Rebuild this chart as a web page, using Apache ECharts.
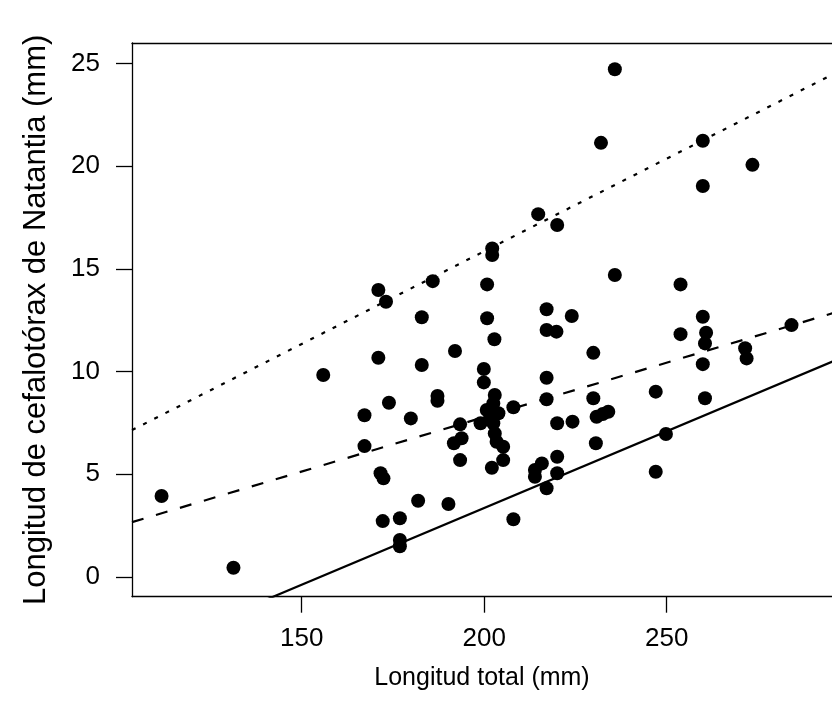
<!DOCTYPE html>
<html>
<head>
<meta charset="utf-8">
<script src="https://cdn.jsdelivr.net/npm/echarts@6/dist/echarts.min.js"></script>
<style>html,body{margin:0;padding:0;background:#fff;}#c{width:832px;height:720px;}</style>
</head>
<body>
<div id="c"></div>
<script>
// Scatter data: total length (mm) vs cephalothorax length (mm)
var totalLength = [111.6,131.3,155.9,171.0,173.9,167.2,167.2,171.6,172.4,172.2,176.9,176.9,176.9,
  182.9,200.8,202.8,217.1,219.8,182.9,192.0,199.9,199.9,217.1,187.2,187.2,179.9,208.0,217.1,220.0,
  193.4,193.8,191.7,193.4,202.9,202.5,200.7,203.9,201.6,199.0,202.5,202.9,203.4,205.2,205.2,202.1,
  181.9,190.2,208.0,215.8,213.9,213.9,217.1,220.0,220.0,224.0,229.9,259.9,260.8,260.5,253.8,271.5,
  271.9,259.9,229.9,247.0,260.5,224.2,230.8,232.5,234.0,230.6,249.8,247.0,214.8,220.0,202.2,202.2,
  185.9,200.8,171.0,173.1,217.1,235.8,232.0,259.9,273.5,259.9,235.8,253.8,284.2];
var cephLength = [3.94,0.45,9.83,10.67,8.48,7.87,6.37,5.05,4.80,2.72,2.86,1.80,1.50,
  12.64,12.59,11.57,12.02,11.94,10.32,11.00,10.12,9.47,9.70,8.81,8.58,7.72,8.26,8.65,7.48,
  7.43,6.75,6.51,5.69,8.86,8.45,8.13,7.97,7.72,7.48,7.48,6.99,6.58,6.34,5.69,5.32,
  3.71,3.55,2.81,5.53,5.21,4.88,4.32,5.85,5.05,12.70,10.91,12.67,11.89,11.37,11.82,11.13,
  10.64,10.36,8.70,9.02,8.70,7.56,7.80,7.93,8.04,6.51,6.96,5.12,17.66,17.13,15.99,15.67,
  14.40,14.24,13.97,13.40,13.03,24.71,21.13,21.23,20.06,19.03,14.70,14.24,12.26];

// Fitted lines (endpoints)
var lineX = [103.5, 300];
var lowerLine = [-3.85, 10.83];   // solid
var middleLine = [2.67, 13.08];   // dashed
var upperLine = [7.15, 24.87];    // dotted

var xTicks = [150, 200, 250];
var yTicks = [0, 5, 10, 15, 20, 25];

var pts = totalLength.map(function (x, i) { return [x, cephLength[i]]; });
function pairs(ys) { return lineX.map(function (x, i) { return [x, ys[i]]; }); }

var font = 'Liberation Sans, Arial, sans-serif';
var axisLineStyle = {color: '#000', width: 1.3};
var chart = echarts.init(document.getElementById('c'), null, {renderer: 'canvas'});
chart.setOption({
  animation: false,
  backgroundColor: '#fff',
  grid: {left: 132, top: 43, right: 0, bottom: 123.3, show: false},
  xAxis: [{
    type: 'value', min: 103.5, max: 295.3, position: 'bottom',
    name: 'Longitud total (mm)', nameLocation: 'middle', nameGap: 69,
    nameTextStyle: {color: '#000', fontSize: 25, fontFamily: font},
    axisLine: {show: true, onZero: false, lineStyle: axisLineStyle},
    axisTick: {show: true, inside: false, length: 16, customValues: xTicks, lineStyle: {color: '#000', width: 1.3}},
    axisLabel: {customValues: xTicks, color: '#000', fontSize: 26, fontFamily: font, margin: 29},
    splitLine: {show: false}
  }, {
    type: 'value', min: 103.5, max: 295.3, position: 'top',
    axisLine: {show: true, onZero: false, lineStyle: axisLineStyle},
    axisTick: {show: false}, axisLabel: {show: false}, splitLine: {show: false}
  }],
  yAxis: {
    type: 'value', min: -0.959, max: 25.99, position: 'left',
    name: 'Longitud de cefalotórax de Natantia (mm)', nameLocation: 'middle', nameGap: 80, nameRotate: 90,
    nameTextStyle: {color: '#000', fontSize: 31, fontFamily: font},
    axisLine: {show: true, onZero: false, lineStyle: axisLineStyle},
    axisTick: {show: true, inside: false, length: 16, customValues: yTicks, lineStyle: {color: '#000', width: 1.3}},
    axisLabel: {customValues: yTicks, color: '#000', fontSize: 26, fontFamily: font, margin: 32},
    splitLine: {show: false}
  },
  series: [
    {type: 'scatter', xAxisIndex: 0, data: pts, symbol: 'circle', symbolSize: 14, itemStyle: {color: '#000', opacity: 1}, clip: true},
    {type: 'line', xAxisIndex: 0, data: pairs(lowerLine), symbol: 'none', clip: true, lineStyle: {color: '#000', width: 2.2, type: 'solid'}},
    {type: 'line', xAxisIndex: 0, data: pairs(middleLine), symbol: 'none', clip: true, lineStyle: {color: '#000', width: 2.2, type: [12, 13]}},
    {type: 'line', xAxisIndex: 0, data: pairs(upperLine), symbol: 'none', clip: true, lineStyle: {color: '#000', width: 2.2, type: [4, 8.5]}}
  ]
});
</script>
</body>
</html>
